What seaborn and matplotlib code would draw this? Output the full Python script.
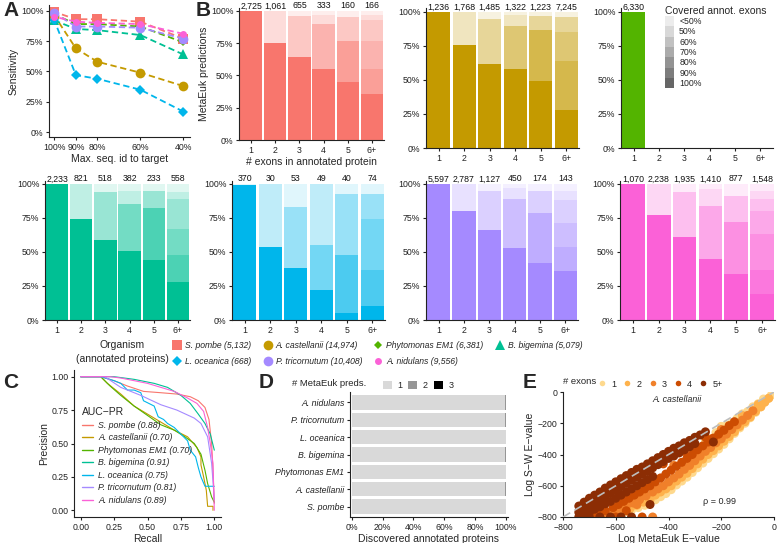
import numpy as np
import pandas as pd
import matplotlib
matplotlib.use("Agg")
import matplotlib.pyplot as plt
from matplotlib.lines import Line2D
from matplotlib.patches import Patch
import seaborn as sns

# ---------------- shared organism info ----------------
organisms = ["S. pombe", "A. castellanii", "Phytomonas EM1", "B. bigemina",
             "L. oceanica", "P. tricornutum", "A. nidulans"]
n_annotated = ["5,132", "14,974", "6,381", "5,079", "668", "10,408", "9,556"]
org_colors = ["#F8766D", "#C49A00", "#53B400", "#00C094", "#00B6EB", "#A58AFF", "#FB61D7"]
org_markers = ["s", "o", "D", "^", "D", "o", "o"]
org_msize = [6.5, 7, 4, 7, 5, 7, 5]

# ---------------- A: sensitivity vs max seq id ----------------
seq_id = [100, 90, 80, 60, 40]
sens_pombe = [99, 93, 93, 91, 77]
sens_castellanii = [96, 69, 58, 49, 38]
sens_phytomonas = [97, 89, 89, 87, 74]
sens_bigemina = [92, 85, 84, 80, 64]
sens_oceanica = [92, 47, 44, 35, 17]
sens_tricornutum = [98, 87, 87, 86, 77]
sens_nidulans = [95, 91, 90, 89, 81]
sens_all = [sens_pombe, sens_castellanii, sens_phytomonas, sens_bigemina,
            sens_oceanica, sens_tricornutum, sens_nidulans]

# ---------------- B: coverage of annotated exons ----------------
exon_bins = ["1", "2", "3", "4", "5", "6+"]
cov_levels = ["100%", "90%", "80%", "70%", "60%", "50%", "<50%"]  # bottom -> top
cov_alpha = [1.0, 0.85, 0.7, 0.55, 0.4, 0.25, 0.12]

cov_pombe = [[100, 0, 0, 0, 0, 0, 0],
             [75, 0, 0, 0, 0, 25, 0],
             [64, 0, 0, 0, 32, 0, 4],
             [55, 0, 0, 35, 0, 7, 3],
             [45, 0, 32, 0, 18, 0, 5],
             [36, 0, 19, 22, 16, 4, 3]]
cov_castellanii = [[100, 0, 0, 0, 0, 0, 0],
                   [76, 0, 0, 0, 0, 24, 0],
                   [62, 0, 0, 0, 33, 0, 5],
                   [58, 0, 0, 32, 0, 8, 2],
                   [49, 0, 38, 0, 10, 0, 3],
                   [28, 0, 36, 21, 11, 0, 4]]
cov_phytomonas = [[100, 0, 0, 0, 0, 0, 0],
                  [0, 0, 0, 0, 0, 0, 0],
                  [0, 0, 0, 0, 0, 0, 0],
                  [0, 0, 0, 0, 0, 0, 0],
                  [0, 0, 0, 0, 0, 0, 0],
                  [0, 0, 0, 0, 0, 0, 0]]
cov_bigemina = [[100, 0, 0, 0, 0, 0, 0],
                [74, 0, 0, 0, 0, 26, 0],
                [59, 0, 0, 0, 35, 0, 6],
                [51, 0, 0, 34, 0, 10, 5],
                [44, 0, 38, 0, 13, 0, 5],
                [28, 0, 20, 19, 22, 5, 6]]
cov_oceanica = [[99, 0, 0, 0, 0, 0, 1],
                [54, 0, 0, 0, 0, 46, 0],
                [38, 0, 0, 0, 45, 0, 17],
                [22, 0, 0, 33, 0, 45, 0],
                [5, 0, 43, 0, 45, 0, 7],
                [10, 0, 27, 37, 19, 0, 7]]
cov_tricornutum = [[100, 0, 0, 0, 0, 0, 0],
                   [80, 0, 0, 0, 0, 20, 0],
                   [66, 0, 0, 0, 29, 0, 5],
                   [53, 0, 0, 36, 0, 8, 3],
                   [42, 0, 37, 0, 16, 0, 5],
                   [36, 0, 18, 17, 17, 7, 5]]
cov_nidulans = [[100, 0, 0, 0, 0, 0, 0],
                [77, 0, 0, 0, 0, 23, 0],
                [61, 0, 0, 0, 33, 0, 6],
                [45, 0, 0, 39, 0, 12, 4],
                [34, 0, 38, 0, 19, 0, 9],
                [19, 18, 26, 17, 9, 6, 5]]

n_pombe = ["2,725", "1,061", "655", "333", "160", "166"]
n_castellanii = ["1,236", "1,768", "1,485", "1,322", "1,223", "7,245"]
n_phytomonas = ["6,330", "", "", "", "", ""]
n_bigemina = ["2,233", "821", "518", "382", "233", "558"]
n_oceanica = ["370", "30", "53", "49", "40", "74"]
n_tricornutum = ["5,597", "2,787", "1,127", "450", "174", "143"]
n_nidulans = ["1,070", "2,238", "1,935", "1,410", "877", "1,548"]

# ---------------- C: precision-recall ----------------
auc_pr = ["0.88", "0.70", "0.70", "0.91", "0.75", "0.81", "0.89"]
rec_pombe = [0, 0.15, 0.25, 0.35, 0.47, 0.6, 0.72, 0.82, 0.88, 0.93, 0.96, 0.98, 0.99, 1.0]
prec_pombe = [1, 1, 0.97, 0.93, 0.89, 0.88, 0.87, 0.85, 0.82, 0.77, 0.68, 0.5, 0.3, 0.05]
rec_castellanii = [0, 0.15, 0.2, 0.3, 0.4, 0.5, 0.6, 0.7, 0.8, 0.87, 0.9, 0.9, 0.92, 0.94, 0.95, 0.99, 0.99]
prec_castellanii = [1, 1, 0.95, 0.87, 0.78, 0.72, 0.66, 0.6, 0.55, 0.47, 0.4, 0.34, 0.25, 0.15, 0.03, 0.03, 0.0]
rec_phytomonas = [0, 0.15, 0.22, 0.3, 0.4, 0.5, 0.6, 0.7, 0.78, 0.85, 0.9, 0.93, 0.95, 0.98, 1.0]
prec_phytomonas = [1, 1, 0.93, 0.86, 0.78, 0.71, 0.64, 0.6, 0.55, 0.5, 0.42, 0.3, 0.2, 0.1, 0.06]
rec_bigemina = [0, 0.25, 0.4, 0.55, 0.65, 0.75, 0.82, 0.88, 0.93, 0.97, 1.0]
prec_bigemina = [1, 1, 0.98, 0.95, 0.92, 0.86, 0.8, 0.72, 0.65, 0.57, 0.45]
rec_oceanica = [0, 0.15, 0.25, 0.3, 0.35, 0.4, 0.45, 0.47, 0.55, 0.58, 0.62, 0.65, 0.7, 0.75,
                0.8, 0.82, 0.86, 0.88, 0.9, 0.93, 1.0]
prec_oceanica = [1, 1, 0.97, 0.95, 0.9, 0.9, 0.88, 0.82, 0.78, 0.7, 0.68, 0.65, 0.62, 0.57,
                 0.52, 0.45, 0.4, 0.32, 0.25, 0.18, 0.18]
rec_tricornutum = [0, 0.18, 0.3, 0.45, 0.6, 0.72, 0.85, 0.9, 0.95, 0.98, 1.0]
prec_tricornutum = [1, 1, 0.92, 0.86, 0.79, 0.75, 0.69, 0.65, 0.55, 0.35, 0.08]
rec_nidulans = [0, 0.22, 0.3, 0.4, 0.5, 0.6, 0.7, 0.8, 0.87, 0.92, 0.95, 0.97, 0.99, 1.0]
prec_nidulans = [1, 1, 0.99, 0.97, 0.95, 0.92, 0.89, 0.84, 0.8, 0.74, 0.62, 0.5, 0.35, 0.0]
rec_all = [rec_pombe, rec_castellanii, rec_phytomonas, rec_bigemina,
           rec_oceanica, rec_tricornutum, rec_nidulans]
prec_all = [prec_pombe, prec_castellanii, prec_phytomonas, prec_bigemina,
            prec_oceanica, prec_tricornutum, prec_nidulans]

# ---------------- D: discovered annotated proteins ----------------
d_order = ["A. nidulans", "P. tricornutum", "L. oceanica", "B. bigemina",
           "Phytomonas EM1", "A. castellanii", "S. pombe"]
found_1pred = [99.4, 99.7, 99.9, 99.7, 100.0, 99.4, 100.0]
found_2pred = [0.5, 0.2, 0.0, 0.2, 0.0, 0.5, 0.0]
found_3pred = [0.05, 0.0, 0.0, 0.0, 0.0, 0.05, 0.0]
pred_labels = ["1", "2", "3"]
pred_colors = ["#D9D9D9", "#969696", "#000000"]

# ---------------- E: E-value correlation (A. castellanii) ----------------
exon_groups = ["1", "2", "3", "4", "5+"]
exon_colors = ["#FED98E", "#FEB24C", "#F0802A", "#CC4C02", "#8C2D04"]
ev_x_1 = [-620, -580, -560, -540, -515, -490, -470, -450, -430, -410, -400, -390, -370, -350,
          -330, -310, -290, -270, -250, -230, -210, -190, -170, -150, -130, -110, -90, -70,
          -50, -35, -20, -10, -60, -100, -140, -180, -220, -160, -260, -545, -650, -200,
          -120, -80, -40, -300]
ev_y_1 = [-790, -775, -765, -755, -740, -725, -705, -690, -670, -650, -620, -625, -595, -570,
          -545, -515, -485, -455, -425, -395, -365, -335, -300, -265, -230, -200, -165, -130,
          -95, -65, -40, -20, -75, -125, -170, -215, -260, -200, -310, -725, -795, -220,
          -140, -95, -45, -345]
ev_x_2 = [-640, -600, -570, -545, -520, -495, -470, -450, -430, -410, -390, -370, -350, -330,
          -310, -290, -270, -250, -230, -210, -190, -170, -150, -130, -110, -90, -70, -50,
          -35, -20, -280, -180, -120, -60, -240]
ev_y_2 = [-795, -780, -760, -745, -725, -705, -690, -660, -640, -620, -600, -570, -545, -520,
          -490, -460, -430, -400, -375, -345, -315, -285, -255, -220, -190, -160, -125, -95,
          -65, -40, -380, -240, -150, -80, -300]
ev_x_3 = [-690, -650, -620, -590, -560, -535, -510, -485, -460, -440, -420, -400, -380, -360,
          -340, -320, -300, -280, -260, -240, -220, -200, -180, -160, -140, -120, -100, -80,
          -460, -520, -300, -200, -380]
ev_y_3 = [-795, -790, -770, -755, -730, -710, -690, -665, -640, -620, -600, -575, -550, -525,
          -495, -470, -440, -410, -380, -355, -325, -300, -270, -240, -210, -180, -150, -120,
          -800, -720, -360, -240, -470]
ev_x_4 = [-710, -670, -640, -610, -590, -570, -550, -530, -510, -490, -470, -450, -430, -410,
          -390, -370, -350, -330, -310, -290, -270, -250, -230, -210, -190, -170, -150, -560,
          -500, -600, -420, -340, -260]
ev_y_4 = [-790, -780, -760, -740, -720, -700, -680, -660, -640, -620, -600, -575, -550, -525,
          -500, -475, -450, -425, -400, -370, -345, -320, -295, -270, -245, -215, -190, -760,
          -800, -800, -460, -380, -290]
ev_x_5 = [-740, -740, -720, -720, -720, -700, -700, -700, -680, -680, -680, -660, -660, -660,
          -640, -640, -640, -620, -620, -620, -600, -600, -600, -580, -580, -580, -560, -560,
          -560, -540, -540, -540, -520, -520, -520, -500, -500, -500, -480, -480, -480, -460,
          -460, -460, -440, -440, -420, -420, -400, -400, -380, -380, -360, -360, -340, -340,
          -320, -320, -300, -300, -280, -260, -230, -470, -740, -700, -660, -620, -580, -540]
ev_y_5 = [-730, -770, -705, -750, -790, -680, -725, -770, -660, -705, -750, -640, -685, -735,
          -615, -665, -715, -595, -645, -700, -575, -625, -680, -555, -605, -660, -535, -585,
          -640, -515, -565, -620, -495, -545, -600, -480, -525, -580, -460, -505, -560, -440,
          -485, -540, -420, -465, -400, -445, -380, -425, -360, -410, -345, -390, -325, -370,
          -310, -350, -290, -330, -275, -255, -320, -720, -800, -800, -800, -800, -800, -800]
ev_x_all = [ev_x_1, ev_x_2, ev_x_3, ev_x_4, ev_x_5]
ev_y_all = [ev_y_1, ev_y_2, ev_y_3, ev_y_4, ev_y_5]

# ---------------- style ----------------
sns.set_theme(style="ticks", rc={
    "axes.linewidth": 0.8, "axes.edgecolor": "#222222",
    "xtick.major.size": 2.5, "ytick.major.size": 2.5,
    "xtick.major.width": 0.8, "ytick.major.width": 0.8,
    "xtick.color": "#222222", "ytick.color": "#222222",
    "xtick.labelsize": 6.3, "ytick.labelsize": 6.3,
    "xtick.major.pad": 1.5, "ytick.major.pad": 1.5,
    "axes.labelsize": 7.5, "axes.labelpad": 1.5,
})
plt.rcParams["font.family"] = ["Liberation Sans", "DejaVu Sans"]

W, H = 778, 543
fig = plt.figure(figsize=(W / 100, H / 100), dpi=100)


def add_ax(left, top, right, bottom):
    return fig.add_axes([left / W, 1 - bottom / H, (right - left) / W, (bottom - top) / H])


def pct(vals):
    return [f"{v}%" for v in vals]


# ---- A ----
ax = add_ax(49, 5, 190, 137)
for i, org in enumerate(organisms):
    sns.lineplot(x=seq_id, y=sens_all[i], ax=ax, color=org_colors[i], marker=org_markers[i],
                 markersize=org_msize[i], markeredgewidth=0, linewidth=1.3,
                 linestyle=(0, (3.5, 2)), legend=False)
ax.set_xlim(102.5, 36.9)
ax.set_ylim(-3.9, 104.7)
ax.set_xticks(seq_id, pct(seq_id))
ax.set_yticks([0, 25, 50, 75, 100], pct([0, 25, 50, 75, 100]))
ax.set_xlabel("Max. seq. id to target")
ax.set_ylabel("Sensitivity")
sns.despine(ax=ax)

# ---- B ----
b_specs = [
    (cov_pombe, n_pombe, 0, (239, 8, 384, 140), 102.3),
    (cov_castellanii, n_castellanii, 1, (426, 8, 579, 148), 102.9),
    (cov_phytomonas, n_phytomonas, 2, (621, 8, 773, 148), 102.9),
    (cov_bigemina, n_bigemina, 3, (45, 181, 190, 320), 102.2),
    (cov_oceanica, n_oceanica, 4, (232, 181, 385, 320), 102.2),
    (cov_tricornutum, n_tricornutum, 5, (426, 181, 578, 320), 102.2),
    (cov_nidulans, n_nidulans, 6, (620, 181, 775, 320), 102.2),
]
b_axes = []
for cov, counts, ci, box, top in b_specs:
    ax = add_ax(*box)
    cov = np.array(cov, dtype=float)
    xpos = np.arange(1, 7)
    bottom = np.zeros(6)
    for j in range(len(cov_levels)):
        ax.bar(xpos, cov[:, j], bottom=bottom, width=0.92, color=org_colors[ci],
               alpha=cov_alpha[j], linewidth=0)
        bottom += cov[:, j]
    for xi, c in zip(xpos, counts):
        ax.text(xi, 100.4, c, ha="center", va="bottom", fontsize=6.3, color="#111111",
                clip_on=False)
    ax.set_xlim(0.5, 6.5)
    ax.set_ylim(0, top)
    ax.set_xticks(xpos, exon_bins)
    ax.set_yticks([0, 25, 50, 75, 100], pct([0, 25, 50, 75, 100]))
    sns.despine(ax=ax)
    b_axes.append(ax)

b_axes[0].set_xlabel("# exons in annotated protein")
b_axes[0].set_ylabel("MetaEuk predictions")

cov_handles = [Patch(facecolor="#666666", alpha=a, edgecolor="none") for a in cov_alpha[::-1]]
b_axes[2].legend(cov_handles, cov_levels[::-1], title="Covered annot. exons",
                 loc="upper left", bbox_to_anchor=(0.25, 1.06), frameon=False,
                 fontsize=6.3, title_fontsize=7.5, handlelength=1.0, handleheight=1.45,
                 labelspacing=0.0, handletextpad=0.6, alignment="left", borderpad=0.2)

# organism legend
org_handles = [Line2D([], [], color=org_colors[i], marker=org_markers[i], linestyle="none",
                      markersize=org_msize[i], markeredgewidth=0) for i in range(7)]
org_labels = [f"{o} ({n})" for o, n in zip(organisms, n_annotated)]
order = [0, 4, 1, 5, 2, 6, 3]
fig.legend([org_handles[k] for k in order], [org_labels[k] for k in order], ncol=4,
           loc="upper left", bbox_to_anchor=(168 / W, 1 - 337 / H), frameon=False,
           prop={"style": "italic", "size": 6.2}, handletextpad=0.3, columnspacing=1.3,
           labelspacing=0.75, handlelength=1.2, borderpad=0)
fig.text(122 / W, 1 - 345 / H, "Organism", ha="center", va="center", fontsize=7.5)
fig.text(122 / W, 1 - 359 / H, "(annotated proteins)", ha="center", va="center", fontsize=7.5)

# ---- C ----
ax = add_ax(74, 370, 221, 517)
for i, org in enumerate(organisms):
    sns.lineplot(x=rec_all[i], y=prec_all[i], ax=ax, color=org_colors[i], linewidth=0.8,
                 estimator=None, sort=False, legend=False)
ax.set_xlim(-0.05, 1.05)
ax.set_ylim(-0.05, 1.05)
ticks_c = [0, 0.25, 0.5, 0.75, 1.0]
ax.set_xticks(ticks_c, [f"{t:.2f}" for t in ticks_c])
ax.set_yticks(ticks_c, [f"{t:.2f}" for t in ticks_c])
ax.set_xlabel("Recall")
ax.set_ylabel("Precision")
sns.despine(ax=ax)
c_handles = [Line2D([], [], color=org_colors[i], linewidth=1) for i in range(7)]
c_labels = [f"{o} ({a})" for o, a in zip(organisms, auc_pr)]
leg = ax.legend(c_handles, c_labels, title="AUC\u2212PR", loc="lower left",
                bbox_to_anchor=(0.01, 0.04), frameon=False,
                prop={"style": "italic", "size": 6.3},
                title_fontsize=7.5, handlelength=1.3, labelspacing=0.4, handletextpad=0.6,
                alignment="left", borderpad=0.2)

# ---- D ----
ax = add_ax(350, 392, 508, 517)
sns.barplot(x=found_1pred, y=d_order, orient="h", color=pred_colors[0], saturation=1,
            width=0.82, ax=ax, linewidth=0)
left2 = np.array(found_1pred)
ax.barh(np.arange(7), found_2pred, left=left2, height=0.82, color=pred_colors[1], linewidth=0)
ax.barh(np.arange(7), found_3pred, left=left2 + np.array(found_2pred), height=0.82,
        color=pred_colors[2], linewidth=0)
ax.set_ylim(6.6, -0.6)
ax.set_xlim(-1.3, 101.5)
ax.set_xticks([0, 20, 40, 60, 80, 100], pct([0, 20, 40, 60, 80, 100]))
for lab in ax.get_yticklabels():
    lab.set_fontstyle("italic")
ax.set_ylabel("")
ax.set_xlabel("Discovered annotated proteins")
sns.despine(ax=ax)
d_handles = [Patch(facecolor=c, edgecolor="none") for c in pred_colors]
fig.legend(d_handles, pred_labels, ncol=3, loc="upper left",
           bbox_to_anchor=(378 / W, 1 - 376 / H), frameon=False, fontsize=6.5,
           handlelength=1.0, handleheight=1.0, handletextpad=0.6, columnspacing=0.7,
           borderpad=0)
fig.text(292 / W, 1 - 383 / H, "# MetaEuk preds.", ha="left", va="center", fontsize=6.8)

# ---- E ----
ax = add_ax(563, 392, 774, 517)
ev_df = pd.concat([pd.DataFrame({"metaeuk": ev_x_all[k], "sw": ev_y_all[k], "exons": g})
                   for k, g in enumerate(exon_groups)], ignore_index=True)
sns.scatterplot(data=ev_df, x="metaeuk", y="sw", hue="exons", hue_order=exon_groups,
                palette=exon_colors, s=42, linewidth=0, legend=False, ax=ax)
ax.plot([-800, 0], [-800, 0], linestyle=(0, (5, 3)), color="#BDBDBD", linewidth=1.2, zorder=3)
ax.set_xlim(-800, 0)
ax.set_ylim(-800, 0)
ax.set_xticks([-800, -600, -400, -200, 0])
ax.set_yticks([-800, -600, -400, -200, 0])
ax.set_xlabel("Log MetaEuk E\u2212value")
ax.set_ylabel("Log S\u2212W E\u2212value")
ax.text(-368, -51, "A. castellanii", ha="center", va="center", fontsize=6.3, style="italic")
ax.text(-205, -704, "\u03c1 = 0.99", ha="center", va="center", fontsize=6.5)
sns.despine(ax=ax)
e_handles = [Line2D([], [], color=c, marker="o", linestyle="none", markersize=4,
                    markeredgewidth=0) for c in exon_colors]
fig.legend(e_handles, exon_groups, ncol=5, loc="upper left",
           bbox_to_anchor=(593 / W, 1 - 375 / H), frameon=False, fontsize=6.5,
           handlelength=1.0, handletextpad=0.5, columnspacing=0.75, borderpad=0)
fig.text(563 / W, 1 - 381 / H, "# exons", ha="left", va="center", fontsize=6.8)

# ---- panel letters ----
for lab, (px, py) in {"A": (3, 1), "B": (196, 1), "C": (3, 373), "D": (259, 373),
                      "E": (523, 373)}.items():
    fig.text(px / W, 1 - py / H, lab, ha="left", va="top", fontsize=15, fontweight="bold")

fig.savefig("out.png", dpi=100)
